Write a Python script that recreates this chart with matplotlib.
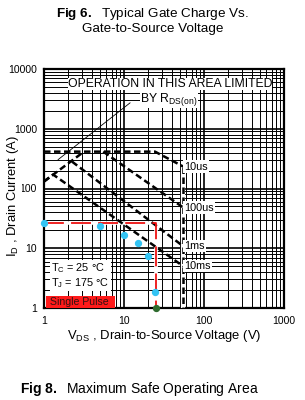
import matplotlib
matplotlib.use("Agg")
import matplotlib.pyplot as plt
import matplotlib.ticker as mticker


# Safe operating area boundaries (V, A)
RDS_LIMIT_V = [1.0, 3.16]
RDS_LIMIT_I = [131, 414]

US10_V = [1.0, 24.4, 55.0]
US10_I = [414, 414, 233]

US100_V = [5.5, 55.0]
US100_I = [414, 48]

MS1_V = [2.24, 55.0]
MS1_I = [282, 10.8]

MS10_V = [1.0, 1.3, 55.0]
MS10_I = [131, 171, 5.0]

BVDSS_V = [55.0, 55.0]
BVDSS_I = [233, 1.0]

CURVE_LABELS = ["10us", "100us", "1ms", "10ms"]
CURVE_LABEL_I = [233, 48, 10.8, 5.0]

# Red operating point guide and measured points
GUIDE_V = [1.0, 25.0, 25.0]
GUIDE_I = [26, 26, 1.0]

POINTS_V = [1.0, 5.0, 10.0, 15.0, 20.0, 24.5]
POINTS_I = [26, 23.3, 16.5, 12.1, 7.4, 1.85]

END_POINT_V = [25.0]
END_POINT_I = [1.0]

X_TICKS = [1, 10, 100, 1000]
X_TICK_LABELS = ["1", "10", "100", "1000"]
Y_TICKS = [1, 10, 100, 1000, 10000]
Y_TICK_LABELS = ["1", "10", "100", "1000", "10000"]

ANNOT_LINE_V = [1.5, 11.9]
ANNOT_LINE_I = [304, 2712]


def setup_fonts():
    plt.rcParams["font.family"] = ["Liberation Sans", "DejaVu Sans"]
    plt.rcParams["mathtext.fontset"] = "custom"
    plt.rcParams["mathtext.rm"] = "Liberation Sans"
    plt.rcParams["mathtext.it"] = "Liberation Sans:italic"
    plt.rcParams["mathtext.bf"] = "Liberation Sans:bold"


def draw_grid(ax):
    ax.set_xscale("log")
    ax.set_yscale("log")
    ax.set_xlim(1, 1000)
    ax.set_ylim(1, 10000)
    ax.xaxis.set_minor_locator(mticker.LogLocator(base=10, subs=range(2, 10)))
    ax.yaxis.set_minor_locator(mticker.LogLocator(base=10, subs=range(2, 10)))
    ax.grid(which="major", color="black", lw=1.2)
    ax.grid(which="minor", color="black", lw=0.7)
    ax.set_axisbelow(True)
    for s in ax.spines.values():
        s.set_linewidth(1.6)
    ax.tick_params(which="both", length=0)
    ax.xaxis.set_minor_formatter(mticker.NullFormatter())
    ax.yaxis.set_minor_formatter(mticker.NullFormatter())
    ax.set_xticks(X_TICKS)
    ax.set_xticklabels(X_TICK_LABELS, fontsize=7.5)
    ax.set_yticks(Y_TICKS)
    ax.set_yticklabels(Y_TICK_LABELS, fontsize=7.5)
    ax.tick_params(axis="x", pad=6)
    ax.tick_params(axis="y", pad=5)


def draw_curves(ax):
    dash = dict(color="black", lw=1.8, dashes=(2.6, 1.4), zorder=4)
    ax.plot(RDS_LIMIT_V, RDS_LIMIT_I, **dash)
    ax.plot(US10_V, US10_I, **dash)
    ax.plot(US100_V, US100_I, **dash)
    ax.plot(MS1_V, MS1_I, **dash)
    ax.plot(MS10_V, MS10_I, **dash)

    # vertical breakdown line, white underneath so the grid is hidden
    ax.plot(BVDSS_V, BVDSS_I, color="white", lw=3.0, zorder=3)
    ax.plot(BVDSS_V, BVDSS_I, **dash)

    for lab, i in zip(CURVE_LABELS, CURVE_LABEL_I):
        ax.text(57, i, lab, fontsize=7.8, va="center", ha="left", zorder=6,
                bbox=dict(facecolor="white", edgecolor="none", pad=0.8))

    # red guide
    ax.plot(GUIDE_V, GUIDE_I, color="white", lw=2.6, zorder=3)
    ax.plot(GUIDE_V, GUIDE_I, color="#ee1111", lw=1.3, dashes=(11, 4), zorder=5)

    ax.scatter(POINTS_V, POINTS_I, s=18, color="#33c4f4", zorder=7, clip_on=False)
    ax.scatter(END_POINT_V, END_POINT_I, s=18, color="#2e6b2e", zorder=7, clip_on=False)


def draw_annotations(ax):
    ax.plot(ANNOT_LINE_V, ANNOT_LINE_I, color="black", lw=0.6, zorder=5)
    ax.text(0.525, 0.937, "OPERATION IN THIS AREA LIMITED", transform=ax.transAxes,
            fontsize=8.8, ha="center", va="center", zorder=6,
            bbox=dict(facecolor="white", edgecolor="none", pad=0.2))
    ax.text(0.52, 0.874, r"BY R$_{\mathrm{DS(on)}}$", transform=ax.transAxes,
            fontsize=8.8, ha="center", va="center", zorder=6,
            bbox=dict(facecolor="white", edgecolor="none", pad=0.2))

    ax.text(0.03, 0.135, "T$_{\\mathrm{C}}$ = 25 \u00b0C\nT$_{\\mathrm{J}}$ = 175 \u00b0C",
            transform=ax.transAxes, fontsize=7.8, ha="left", va="center",
            linespacing=1.1, zorder=6,
            bbox=dict(facecolor="white", edgecolor="none", pad=1.0))
    ax.text(0.012, 0.026, " Single Pulse  ", transform=ax.transAxes, fontsize=7.6,
            ha="left", va="center", color="#331111", zorder=6,
            bbox=dict(facecolor="#ff1a1a", edgecolor="none", pad=0.5))


def main():
    setup_fonts()
    fig = plt.figure(figsize=(3.05, 4.0), dpi=100)
    ax = fig.add_axes([44 / 305, 1 - 308 / 400, 240 / 305, 239 / 400])

    draw_grid(ax)
    draw_curves(ax)
    draw_annotations(ax)

    ax.set_ylabel(r"I$_{\mathrm{D}}$ , Drain Current (A)", fontsize=9.4,
                  bbox=dict(facecolor="white", edgecolor="none", pad=0.5))
    ax.yaxis.set_label_coords(-0.095, 0.47)
    ax.set_xlabel(r"V$_{\mathrm{DS}}$ , Drain-to-Source Voltage (V)", fontsize=9.4, labelpad=1)

    fig.text(0.5, 0.965, r"$\mathbf{Fig\ 6.}$  Typical Gate Charge Vs.", fontsize=9.7,
             ha="center", va="center")
    fig.text(0.5, 0.928, "Gate-to-Source Voltage", fontsize=9.7, ha="center", va="center")
    fig.text(0.066, 0.027, r"$\mathbf{Fig\ 8.}$  Maximum Safe Operating Area", fontsize=10,
             ha="left", va="center")

    fig.savefig("out.png", dpi=100)
    plt.close(fig)


if __name__ == "__main__":
    main()
